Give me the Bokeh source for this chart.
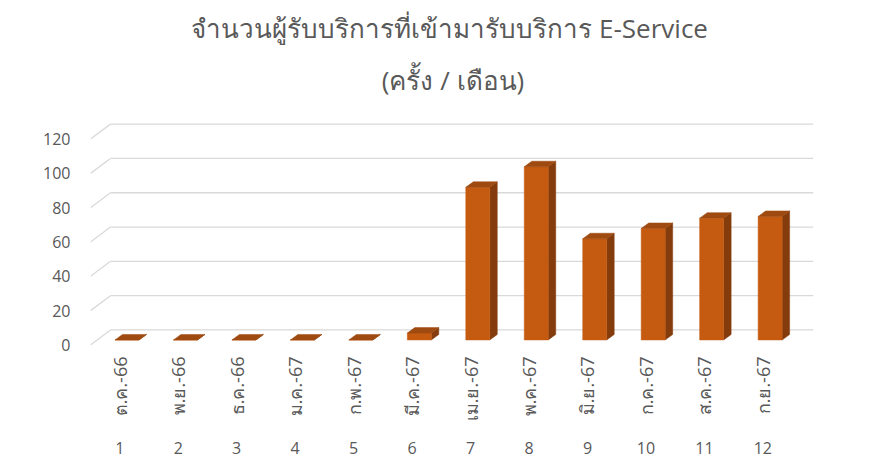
import numpy as np
from bokeh.plotting import figure
from bokeh.models import Range1d, FixedTicker, LinearAxis, Title
from bokeh.embed import file_html
from bokeh.resources import INLINE

# ---- data ----
months = ["ต.ค.-66", "พ.ย.-66", "ธ.ค.-66", "ม.ค.-67", "ก.พ.-67", "มี.ค.-67",
          "เม.ย.-67", "พ.ค.-67", "มิ.ย.-67", "ก.ค.-67", "ส.ค.-67", "ก.ย.-67"]
numbers = [1, 2, 3, 4, 5, 6, 7, 8, 9, 10, 11, 12]
values = [0, 0, 0, 0, 0, 4, 89, 101, 59, 65, 71, 72]
y_ticks = [0, 20, 40, 60, 80, 100, 120]
title_line1 = "จำนวนผู้รับบริการที่เข้ามารับบริการ  E-Service"
title_line2 = "(ครั้ง / เดือน)"

# ---- 3D-look styling constants (in data units) ----
PX_X = 58.5   # px per category
PX_Y = 1.72   # px per value unit
wall_dx, wall_dy = 20 / PX_X, 15 / PX_Y     # back wall offset
bar_dx, bar_dy = 7.25 / PX_X, 5 / PX_Y      # bar plane offset
bar_w = 24 / PX_X
depth_dx, depth_dy = 7.5 / PX_X, 5.5 / PX_Y

FRONT = "#C55A11"
SIDE = "#843C0C"
TOP = "#9E4A10"
GRID = "#D9D9D9"
TXT = "#595959"
FONT = "Open Sans"

p = figure(width=855, height=460, output_backend="svg", toolbar_location=None,
           x_range=Range1d(0.5, 12.9), y_range=Range1d(-1.5, 132),
           title=None, min_border_left=90, min_border_right=40,
           min_border_top=118, min_border_bottom=113)
p.outline_line_color = None
p.xgrid.visible = False
p.ygrid.visible = False
p.xaxis.visible = False
p.yaxis.visible = False

# gridlines: back wall + left floor diagonals
gx, gy = [], []
for t in y_ticks:
    gx.append([0.5 + wall_dx, 12.5 + wall_dx + 0.02])
    gy.append([t + wall_dy, t + wall_dy])
    gx.append([0.5, 0.5 + wall_dx])
    gy.append([t, t + wall_dy])
p.multi_line(gx, gy, line_color=GRID, line_width=1.3)

# bars
xs = np.array(numbers, dtype=float)
v = np.array(values, dtype=float)
xl = xs + bar_dx - bar_w / 2
xr = xs + bar_dx + bar_w / 2
b0 = bar_dy
top_xs, top_ys, side_xs, side_ys = [], [], [], []
for a, b, h in zip(xl, xr, v):
    top_xs.append([a, b, b + depth_dx, a + depth_dx])
    top_ys.append([b0 + h, b0 + h, b0 + h + depth_dy, b0 + h + depth_dy])
    side_xs.append([b, b + depth_dx, b + depth_dx, b])
    side_ys.append([b0, b0 + depth_dy, b0 + h + depth_dy, b0 + h])
p.patches(side_xs, side_ys, fill_color=SIDE, line_color=SIDE, line_width=0.5)
p.quad(left=xl, right=xr, bottom=b0, top=b0 + v, fill_color=FRONT, line_color=FRONT, line_width=0.5)
p.patches(top_xs, top_ys, fill_color=TOP, line_color=TOP, line_width=0.5)

# y axis
yax = LinearAxis(ticker=FixedTicker(ticks=y_ticks))
yax.axis_line_color = None
yax.major_tick_line_color = None
yax.minor_tick_line_color = None
yax.major_label_standoff = 14
yax.major_label_text_color = TXT
yax.major_label_text_font = FONT
yax.major_label_text_font_size = "16px"
p.add_layout(yax, "left")

# x axis: month labels (rotated)
xax = LinearAxis(ticker=FixedTicker(ticks=numbers),
                 major_label_overrides={n: m for n, m in zip(numbers, months)})
xax.axis_line_color = None
xax.major_tick_line_color = None
xax.minor_tick_line_color = None
xax.major_label_orientation = np.pi / 2
xax.major_label_standoff = 3
xax.major_label_text_color = TXT
xax.major_label_text_font = FONT
xax.major_label_text_font_size = "18px"
p.add_layout(xax, "below")

# x axis: numbers
nax = LinearAxis(ticker=FixedTicker(ticks=numbers))
nax.axis_line_color = None
nax.major_tick_line_color = None
nax.minor_tick_line_color = None
nax.major_label_standoff = 11
nax.major_label_text_color = TXT
nax.major_label_text_font = FONT
nax.major_label_text_font_size = "16px"
p.add_layout(nax, "below")

# titles (two centred lines)
t2 = Title(text=title_line2, align="center", offset=-16, text_font=FONT,
           text_font_size="26px", text_font_style="normal", text_color=TXT, standoff=42)
t1 = Title(text=title_line1, align="center", offset=-16, text_font=FONT,
           text_font_size="26px", text_font_style="normal", text_color=TXT, standoff=-14)
p.add_layout(t2, "above")
p.add_layout(t1, "above")

open("out.html", "w").write(file_html(p, INLINE))
